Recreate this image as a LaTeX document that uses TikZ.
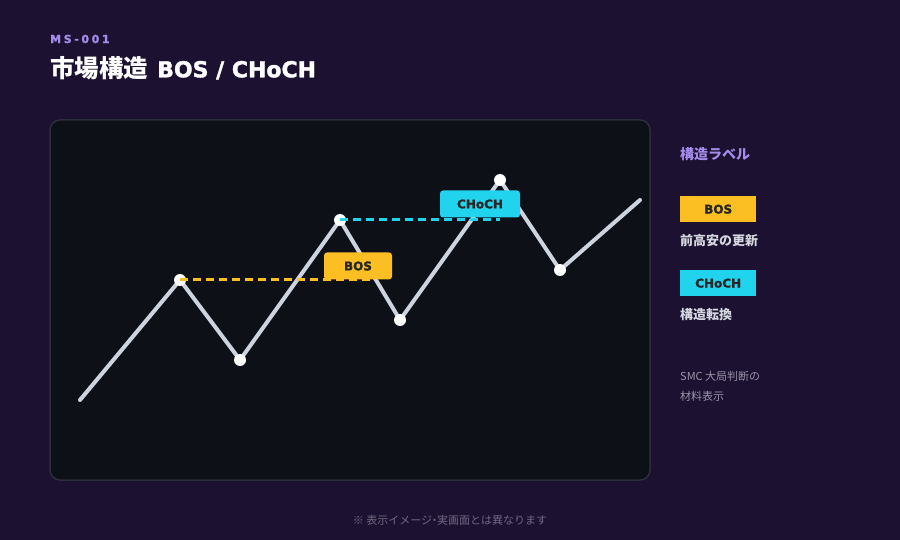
\documentclass[tikz,border=0pt]{standalone}
\usepackage{fontspec}
\setmainfont{Noto Sans CJK JP}
\newfontfamily\lat[BoldFeatures={FakeBold=1.6}]{DejaVu Sans}
\begin{document}
\begin{tikzpicture}[x=1pt,y=-1pt,
  txt/.style={inner sep=0pt,anchor=west},
  dot/.style={circle,fill=white,minimum size=12pt,inner sep=0pt},
  tag/.style={inner sep=0pt,minimum height=27pt,font=\lat\bfseries\fontsize{12}{12}\selectfont,text=black!85},
  price/.style={draw=linec,line width=4pt,line join=round,line cap=round},
  lvl/.style={line width=3pt,dash pattern=on 8pt off 5pt}
]
\definecolor{bgc}{HTML}{1C1130}
\definecolor{panel}{HTML}{0D1017}
\definecolor{panelb}{HTML}{2B2E3B}
\definecolor{linec}{HTML}{CDD3DF}
\definecolor{yel}{HTML}{FBBF24}
\definecolor{cya}{HTML}{22D3EE}
\definecolor{pur}{HTML}{A48BEA}
\definecolor{lgray}{HTML}{D4D6E0}
\definecolor{mgray}{HTML}{9A95AC}
\definecolor{dgray}{HTML}{6E6882}
\useasboundingbox (0,0) rectangle (900,540);
\fill[bgc] (0,0) rectangle (900,540);
% header
\node[txt,text=pur,font=\lat\bfseries\fontsize{11}{11}\selectfont] (code) at (50,39) {M\hspace{2.6pt}S\hspace{2.6pt}-\hspace{2.6pt}0\hspace{2.6pt}0\hspace{2.6pt}1};
\node[txt,text=white,font=\bfseries\fontsize{24.5}{24.5}\selectfont] (title) at (50,68) {市場構造\hspace{9pt}{\lat\bfseries\fontsize{22}{22}\selectfont BOS / CHoCH}};
% panel
\draw[fill=panel,draw=panelb,line width=1.5pt,rounded corners=10pt] (50,120) rectangle (650,480);
% points
\coordinate (p0) at (80,400);
\coordinate (p1) at (180,280);
\coordinate (p2) at (240,360);
\coordinate (p3) at (340,220);
\coordinate (p4) at (400,320);
\coordinate (p5) at (500,180);
\coordinate (p6) at (560,270);
\coordinate (p7) at (640,200);
\coordinate (bosend) at (372,280);
\coordinate (chend) at (500,220);
\draw[price] (p0) -- (p1) -- (p2) -- (p3) -- (p4) -- (p5) -- (p6) -- (p7);
\foreach \i in {1,...,6} \node[dot] (d\i) at (p\i) {};
\draw[lvl,yel] (p1) -- (bosend);
\draw[lvl,cya] (p3) -- (chend);
\node[tag,fill=yel,minimum width=68pt,rounded corners=3pt] (bos) at (358,266) {BOS};
\node[tag,fill=cya,minimum width=80pt,rounded corners=3pt] (choch) at (480,204) {CHoCH};
% legend
\node[txt,text=pur,font=\bfseries\fontsize{14}{14}\selectfont] (lgt) at (680,154) {構造ラベル};
\node[tag,fill=yel,minimum width=76pt,minimum height=26pt,anchor=north west] (lbos) at (680,196) {BOS};
\node[txt,text=lgray,font=\bfseries\fontsize{13}{13}\selectfont] (lbost) at (680,241) {前高安の更新};
\node[tag,fill=cya,minimum width=76pt,minimum height=26pt,anchor=north west] (lch) at (680,270) {CHoCH};
\node[txt,text=lgray,font=\bfseries\fontsize{13}{13}\selectfont] (lcht) at (680,315) {構造転換};
\node[txt,text=mgray,font=\fontsize{11}{11}\selectfont] (n1) at (680,376) {SMC 大局判断の};
\node[txt,text=mgray,font=\fontsize{11}{11}\selectfont] (n2) at (680,396) {材料表示};
% footer
\node[inner sep=0pt,text=dgray,font=\fontsize{11}{11}\selectfont] (foot) at (450,520) {※ 表示イメージ{\kern-3pt}・{\kern-3pt}実画面とは異なります};
\end{tikzpicture}
\end{document}
